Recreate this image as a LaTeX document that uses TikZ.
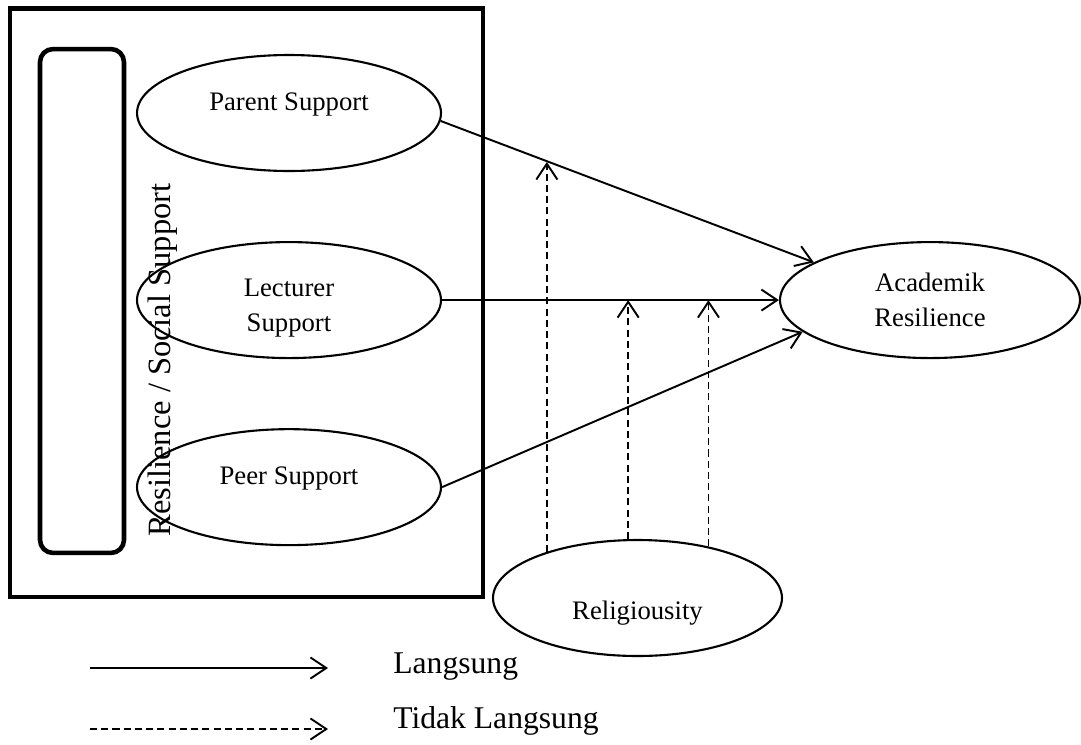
\documentclass[tikz,border=0pt]{standalone}
\usepackage{fontspec}
\setmainfont{Liberation Serif}
\usepackage{tikz}
\usetikzlibrary{positioning,shapes.geometric,arrows.meta,calc}
\tikzset{var node/.style={ellipse,draw,line width=1.2pt,minimum width=6.08cm,minimum height=2.32cm,inner sep=0pt,align=center,font=\fontsize{15.2}{20}\selectfont},
	frame node/.style={rectangle,draw,line width=2.6pt,minimum width=9.46cm,minimum height=11.77cm,inner sep=0pt},
	bar node/.style={rectangle,draw,rounded corners=0.26cm,line width=2.6pt,minimum width=1.68cm,minimum height=10.08cm,inner sep=0pt},
	side label/.style={inner sep=0pt,font=\fontsize{18.5}{22}\selectfont},
	key text/.style={inner sep=0pt,font=\fontsize{18}{22}\selectfont},
	direct/.style={line width=1.1pt,-{Straight Barb[length=9pt,width=12pt]}},
	indirect/.style={direct,dash pattern=on 4pt off 2.4pt},}

\begin{document}
\begin{tikzpicture}[x=0.02cm,y=-0.02cm]
	\useasboundingbox (0,0) rectangle (1081,744);

	% social support block
	\node[frame node] (6) at (246.5,302.75) {};
	\node[bar node] (7) at (82,301) {};
	\node[side label,rotate=90] (8) at (163,360) {Resilience / Social Support};

	\node[var node,text depth=0.45cm] (1) at (289,113) {Parent Support};
	\node[var node,text height=1.38cm] (2) [below=1.38cm of 1] {Lecturer\\Support};
	\node[var node,text depth=0.45cm] (3) [below=1.38cm of 2] {Peer Support};

	\node[var node,minimum width=6cm] (4) [right=6.74cm of 2] {Academik\\Resilience};
	\node[var node,minimum width=5.78cm,text height=0.96cm] (5) at (637.5,598) {Religiousity};

	\path
	(1.-3) edge[direct] (4.162)
	(2) edge[direct] (4)
	(3.east) edge[direct] (4.194)
	;

	% moderation
	\coordinate (m) at ($(1.-3)!0.29!(4.162)$);
	\path
	(5.153) edge[indirect] (5.153 |- m)
	(5.99) edge[indirect] (5.99 |- 2.east)
	(5.36) edge[indirect] (5.36 |- 2.east)
	;

	% legend
	\coordinate (a) at (90,668);
	\coordinate (b) at (328,668);
	\coordinate (c) at (90,729);
	\coordinate (d) at (328,729);
	\draw[direct] (a) -- (b);
	\draw[indirect] (c) -- (d);
	\node[key text,anchor=base west] (9) at (393,673) {Langsung};
	\node[key text,anchor=base west] (10) at (393,728) {Tidak Langsung};
\end{tikzpicture}
\end{document}
